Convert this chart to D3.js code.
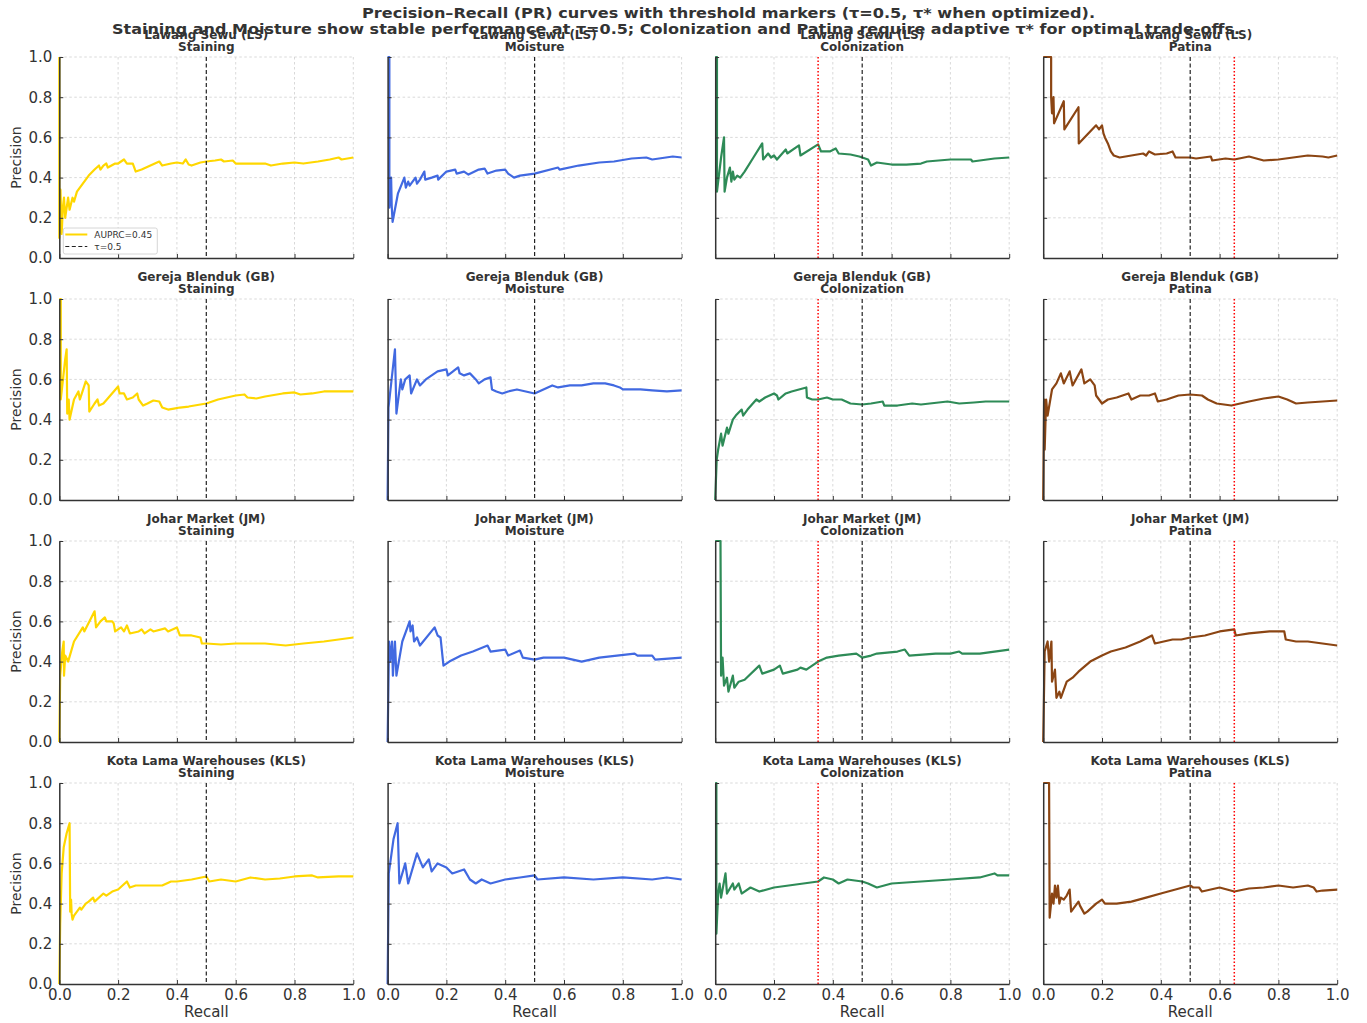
<!DOCTYPE html>
<html><head><meta charset="utf-8">
<script src="https://cdn.jsdelivr.net/npm/d3@7"></script>
<style>body{margin:0;background:#fff;} svg{display:block;font-family:"DejaVu Sans",sans-serif;}</style>
</head><body><svg id="chart" width="1367" height="1023"></svg>
<script>
const titleLines = ["Precision–Recall (PR) curves with threshold markers (τ=0.5, τ* when optimized).",
  "Staining and Moisture show stable performance at τ=0.5; Colonization and Patina require adaptive τ* for optimal trade-offs."];
const sites = ["Lawang Sewu (LS)","Gereja Blenduk (GB)","Johar Market (JM)","Kota Lama Warehouses (KLS)"];
const defects = ["Staining","Moisture","Colonization","Patina"];
const defectColors = ["#FFD700","#4169E1","#2E8B57","#8B4513"];
const tauDefault = 0.5;
const tauStar = [null,null,0.35,0.65];
const tickValues = [0,0.2,0.4,0.6,0.8,1.0];
const legendLabels = ["AUPRC=0.45","τ=0.5"];

// [recall, precision]
const LS_Staining = [[0,1],[0,0.1],[0.004,0.34],[0.008,0.12],[0.012,0.25],[0.016,0.3],[0.02,0.2],[0.03,0.3],[0.035,0.24],[0.045,0.3],[0.05,0.28],[0.06,0.33],[0.08,0.37],[0.1,0.41],[0.12,0.44],[0.135,0.46],[0.14,0.44],[0.15,0.46],[0.16,0.47],[0.165,0.45],[0.19,0.47],[0.2,0.47],[0.22,0.49],[0.23,0.47],[0.25,0.47],[0.26,0.43],[0.28,0.44],[0.31,0.46],[0.34,0.48],[0.35,0.46],[0.38,0.47],[0.4,0.475],[0.42,0.47],[0.43,0.49],[0.44,0.465],[0.45,0.46],[0.48,0.475],[0.5,0.48],[0.53,0.485],[0.55,0.49],[0.56,0.48],[0.59,0.485],[0.6,0.47],[0.65,0.47],[0.7,0.47],[0.72,0.46],[0.76,0.47],[0.8,0.475],[0.83,0.47],[0.88,0.48],[0.92,0.49],[0.95,0.5],[0.96,0.49],[1.0,0.5]];
const LS_Moisture = [[0,1],[0.006,1],[0.006,0.25],[0.012,0.4],[0.014,0.26],[0.017,0.18],[0.035,0.32],[0.057,0.4],[0.062,0.35],[0.07,0.38],[0.075,0.36],[0.095,0.4],[0.1,0.37],[0.11,0.39],[0.125,0.43],[0.128,0.39],[0.15,0.4],[0.17,0.41],[0.172,0.39],[0.2,0.43],[0.23,0.44],[0.235,0.42],[0.26,0.43],[0.275,0.415],[0.31,0.44],[0.33,0.445],[0.34,0.42],[0.37,0.435],[0.4,0.44],[0.41,0.42],[0.43,0.4],[0.45,0.41],[0.5,0.42],[0.58,0.45],[0.585,0.44],[0.65,0.46],[0.72,0.475],[0.77,0.48],[0.83,0.495],[0.88,0.5],[0.9,0.49],[0.97,0.505],[1.0,0.5]];
const LS_Colonization = [[0,1],[0.006,1],[0.006,0.33],[0.02,0.5],[0.03,0.6],[0.032,0.33],[0.04,0.4],[0.05,0.45],[0.055,0.38],[0.06,0.43],[0.065,0.39],[0.075,0.41],[0.085,0.4],[0.1,0.43],[0.13,0.5],[0.16,0.57],[0.163,0.49],[0.18,0.52],[0.19,0.5],[0.2,0.51],[0.21,0.49],[0.24,0.54],[0.245,0.52],[0.285,0.56],[0.29,0.51],[0.35,0.565],[0.36,0.53],[0.39,0.53],[0.41,0.545],[0.42,0.52],[0.46,0.515],[0.49,0.505],[0.52,0.49],[0.53,0.46],[0.55,0.475],[0.6,0.465],[0.65,0.465],[0.7,0.47],[0.72,0.48],[0.8,0.49],[0.87,0.49],[0.875,0.48],[0.95,0.495],[1.0,0.5]];
const LS_Patina = [[0,1],[0.027,1],[0.027,0.8],[0.03,0.72],[0.035,0.8],[0.037,0.67],[0.07,0.78],[0.072,0.64],[0.12,0.75],[0.121,0.57],[0.18,0.66],[0.19,0.64],[0.2,0.66],[0.205,0.62],[0.21,0.6],[0.22,0.57],[0.23,0.53],[0.24,0.51],[0.26,0.5],[0.3,0.51],[0.34,0.52],[0.35,0.51],[0.36,0.53],[0.38,0.515],[0.42,0.52],[0.44,0.53],[0.45,0.5],[0.5,0.5],[0.52,0.495],[0.57,0.505],[0.575,0.485],[0.62,0.495],[0.65,0.49],[0.7,0.505],[0.75,0.485],[0.8,0.49],[0.9,0.51],[0.95,0.505],[0.97,0.5],[1.0,0.51]];

const GB_Staining = [[0,1],[0.005,1],[0.005,0.5],[0.02,0.7],[0.025,0.75],[0.027,0.43],[0.032,0.5],[0.035,0.4],[0.05,0.5],[0.065,0.54],[0.07,0.5],[0.09,0.59],[0.1,0.57],[0.102,0.44],[0.12,0.48],[0.13,0.5],[0.135,0.47],[0.15,0.48],[0.2,0.565],[0.205,0.53],[0.22,0.53],[0.23,0.5],[0.25,0.51],[0.265,0.53],[0.27,0.5],[0.285,0.47],[0.3,0.48],[0.32,0.495],[0.34,0.49],[0.35,0.46],[0.37,0.45],[0.39,0.455],[0.41,0.46],[0.44,0.465],[0.46,0.47],[0.5,0.48],[0.54,0.5],[0.57,0.51],[0.6,0.52],[0.63,0.525],[0.64,0.51],[0.67,0.505],[0.7,0.515],[0.76,0.53],[0.8,0.535],[0.82,0.525],[0.86,0.53],[0.9,0.54],[0.95,0.54],[1.0,0.54]];
const GB_Moisture = [[0,0],[0.003,0.46],[0.025,0.75],[0.03,0.43],[0.045,0.6],[0.05,0.55],[0.06,0.6],[0.075,0.62],[0.08,0.53],[0.1,0.6],[0.11,0.57],[0.13,0.6],[0.15,0.62],[0.17,0.64],[0.2,0.65],[0.205,0.62],[0.24,0.66],[0.245,0.63],[0.26,0.62],[0.28,0.63],[0.3,0.6],[0.31,0.58],[0.33,0.6],[0.35,0.61],[0.355,0.55],[0.37,0.54],[0.39,0.53],[0.41,0.54],[0.44,0.55],[0.47,0.54],[0.5,0.53],[0.53,0.55],[0.56,0.57],[0.58,0.56],[0.62,0.57],[0.66,0.57],[0.7,0.58],[0.74,0.58],[0.77,0.57],[0.79,0.56],[0.8,0.55],[0.86,0.55],[0.9,0.545],[0.95,0.54],[1.0,0.545]];
const GB_Colonization = [[0,0],[0.005,0.2],[0.01,0.25],[0.02,0.33],[0.025,0.27],[0.03,0.3],[0.04,0.36],[0.045,0.33],[0.06,0.4],[0.07,0.42],[0.09,0.45],[0.095,0.42],[0.11,0.45],[0.14,0.5],[0.15,0.49],[0.17,0.51],[0.2,0.53],[0.21,0.52],[0.215,0.5],[0.24,0.53],[0.26,0.54],[0.31,0.56],[0.312,0.51],[0.33,0.5],[0.35,0.5],[0.38,0.51],[0.4,0.5],[0.43,0.5],[0.46,0.48],[0.5,0.475],[0.53,0.48],[0.57,0.49],[0.575,0.47],[0.62,0.47],[0.67,0.48],[0.7,0.475],[0.79,0.49],[0.83,0.48],[0.88,0.485],[0.92,0.49],[1.0,0.49]];
const GB_Patina = [[0,0],[0.003,0.5],[0.005,0.25],[0.01,0.5],[0.015,0.42],[0.03,0.55],[0.045,0.58],[0.06,0.63],[0.07,0.58],[0.09,0.64],[0.1,0.57],[0.13,0.65],[0.14,0.58],[0.16,0.6],[0.175,0.57],[0.18,0.52],[0.2,0.48],[0.22,0.5],[0.25,0.51],[0.29,0.53],[0.3,0.5],[0.33,0.52],[0.36,0.52],[0.38,0.53],[0.39,0.49],[0.42,0.5],[0.46,0.52],[0.5,0.525],[0.54,0.52],[0.56,0.5],[0.59,0.48],[0.64,0.47],[0.7,0.49],[0.75,0.505],[0.8,0.515],[0.83,0.5],[0.86,0.48],[0.9,0.485],[0.95,0.49],[1.0,0.495]];

const JM_Staining = [[0,0],[0.003,0.33],[0.01,0.45],[0.015,0.5],[0.016,0.33],[0.02,0.43],[0.03,0.4],[0.05,0.5],[0.08,0.57],[0.085,0.55],[0.12,0.65],[0.125,0.57],[0.14,0.6],[0.155,0.62],[0.16,0.6],[0.18,0.6],[0.185,0.59],[0.19,0.55],[0.21,0.57],[0.22,0.55],[0.23,0.58],[0.24,0.54],[0.27,0.55],[0.28,0.56],[0.29,0.54],[0.31,0.56],[0.32,0.55],[0.36,0.565],[0.37,0.55],[0.4,0.57],[0.41,0.53],[0.45,0.53],[0.48,0.52],[0.485,0.49],[0.5,0.49],[0.55,0.485],[0.6,0.49],[0.7,0.49],[0.77,0.48],[0.83,0.49],[0.9,0.5],[0.95,0.51],[1.0,0.52]];
const JM_Moisture = [[0,0],[0.005,0.5],[0.008,0.4],[0.015,0.5],[0.018,0.33],[0.025,0.5],[0.03,0.33],[0.05,0.5],[0.07,0.58],[0.075,0.6],[0.078,0.55],[0.085,0.58],[0.09,0.5],[0.1,0.52],[0.11,0.48],[0.16,0.57],[0.17,0.53],[0.18,0.52],[0.185,0.45],[0.19,0.38],[0.21,0.4],[0.25,0.43],[0.29,0.45],[0.34,0.48],[0.35,0.45],[0.4,0.46],[0.41,0.43],[0.45,0.455],[0.46,0.42],[0.5,0.41],[0.53,0.42],[0.6,0.42],[0.63,0.41],[0.66,0.4],[0.72,0.42],[0.84,0.44],[0.85,0.43],[0.9,0.43],[0.91,0.41],[1.0,0.42]];
const JM_Colonization = [[0,1],[0.018,1],[0.02,0.33],[0.025,0.42],[0.03,0.28],[0.04,0.32],[0.045,0.25],[0.06,0.33],[0.065,0.27],[0.08,0.3],[0.1,0.31],[0.15,0.38],[0.16,0.34],[0.2,0.36],[0.22,0.38],[0.23,0.34],[0.28,0.36],[0.29,0.37],[0.31,0.36],[0.35,0.4],[0.38,0.42],[0.42,0.43],[0.48,0.44],[0.5,0.42],[0.53,0.43],[0.55,0.44],[0.62,0.45],[0.645,0.46],[0.66,0.43],[0.75,0.44],[0.8,0.44],[0.83,0.45],[0.84,0.44],[0.9,0.44],[0.95,0.45],[1.0,0.46]];
const JM_Patina = [[0,0],[0.005,0.45],[0.015,0.5],[0.02,0.4],[0.028,0.5],[0.03,0.3],[0.04,0.36],[0.045,0.22],[0.055,0.25],[0.06,0.22],[0.08,0.3],[0.1,0.32],[0.12,0.35],[0.16,0.4],[0.2,0.43],[0.23,0.45],[0.28,0.47],[0.33,0.5],[0.37,0.53],[0.38,0.49],[0.41,0.5],[0.44,0.51],[0.47,0.51],[0.5,0.52],[0.55,0.53],[0.6,0.55],[0.65,0.56],[0.655,0.53],[0.7,0.54],[0.77,0.55],[0.82,0.55],[0.825,0.51],[0.86,0.5],[0.9,0.5],[0.95,0.49],[1.0,0.48]];

const KLS_Staining = [[0,0],[0.003,0.3],[0.008,0.55],[0.015,0.68],[0.025,0.75],[0.035,0.8],[0.037,0.36],[0.04,0.42],[0.042,0.35],[0.045,0.32],[0.05,0.34],[0.06,0.36],[0.07,0.38],[0.075,0.37],[0.09,0.4],[0.1,0.41],[0.115,0.43],[0.12,0.41],[0.15,0.45],[0.16,0.44],[0.18,0.46],[0.2,0.47],[0.23,0.51],[0.24,0.48],[0.26,0.49],[0.3,0.49],[0.35,0.49],[0.38,0.51],[0.4,0.51],[0.45,0.52],[0.5,0.535],[0.51,0.51],[0.55,0.52],[0.6,0.51],[0.65,0.53],[0.7,0.52],[0.75,0.525],[0.8,0.535],[0.86,0.54],[0.88,0.53],[0.95,0.535],[1.0,0.535]];
const KLS_Moisture = [[0,0],[0.004,0.55],[0.02,0.72],[0.034,0.8],[0.04,0.5],[0.06,0.6],[0.07,0.5],[0.09,0.6],[0.1,0.65],[0.12,0.58],[0.14,0.62],[0.15,0.56],[0.17,0.6],[0.2,0.58],[0.22,0.55],[0.26,0.57],[0.28,0.52],[0.3,0.5],[0.32,0.52],[0.35,0.5],[0.4,0.52],[0.45,0.53],[0.5,0.54],[0.51,0.52],[0.6,0.53],[0.7,0.52],[0.8,0.53],[0.9,0.52],[0.95,0.53],[1.0,0.52]];
const KLS_Colonization = [[0,1],[0.004,1],[0.004,0.25],[0.01,0.45],[0.015,0.5],[0.02,0.43],[0.035,0.55],[0.04,0.45],[0.06,0.5],[0.065,0.47],[0.08,0.5],[0.09,0.45],[0.12,0.48],[0.15,0.46],[0.2,0.48],[0.25,0.49],[0.3,0.5],[0.35,0.51],[0.37,0.53],[0.4,0.52],[0.42,0.5],[0.45,0.52],[0.5,0.51],[0.52,0.5],[0.55,0.48],[0.6,0.5],[0.7,0.51],[0.8,0.52],[0.9,0.53],[0.95,0.55],[0.96,0.54],[1.0,0.54]];
const KLS_Patina = [[0,1],[0.02,1],[0.022,0.33],[0.03,0.45],[0.035,0.4],[0.04,0.49],[0.045,0.43],[0.05,0.49],[0.055,0.4],[0.06,0.43],[0.07,0.42],[0.08,0.44],[0.09,0.47],[0.095,0.36],[0.1,0.37],[0.12,0.41],[0.125,0.39],[0.14,0.35],[0.15,0.36],[0.18,0.4],[0.2,0.42],[0.21,0.4],[0.25,0.4],[0.3,0.41],[0.35,0.43],[0.4,0.45],[0.45,0.47],[0.5,0.49],[0.51,0.48],[0.53,0.48],[0.54,0.46],[0.6,0.48],[0.65,0.46],[0.7,0.475],[0.75,0.48],[0.8,0.49],[0.85,0.48],[0.9,0.49],[0.92,0.48],[0.93,0.46],[0.95,0.465],[1.0,0.47]];

const curves = [
  [LS_Staining, LS_Moisture, LS_Colonization, LS_Patina],
  [GB_Staining, GB_Moisture, GB_Colonization, GB_Patina],
  [JM_Staining, JM_Moisture, JM_Colonization, JM_Patina],
  [KLS_Staining, KLS_Moisture, KLS_Colonization, KLS_Patina]
];

const svg = d3.select("#chart");
const W = 294, H = 201;
const colX = [59.3, 387.6, 715.2, 1043.2];
const rowY = [57, 299, 541, 783];
const ink = "#333";

sites.forEach((site, r) => {
  defects.forEach((def, c) => {
    const g = svg.append("g").attr("transform", `translate(${colX[c]},${rowY[r]})`);
    const x = d3.scaleLinear().domain([0, 1]).range([0, W]);
    const y = d3.scaleLinear().domain([0, 1]).range([H, 0]);

    // grid
    g.append("g").selectAll("line").data(tickValues.slice(1)).join("line")
      .attr("x1", d => x(d)).attr("x2", d => x(d)).attr("y1", 0).attr("y2", H)
      .attr("stroke", "#cfcfcf").attr("stroke-width", 0.8).attr("stroke-dasharray", "2.5,2.5");
    g.append("g").selectAll("line").data(tickValues.slice(1)).join("line")
      .attr("y1", d => y(d)).attr("y2", d => y(d)).attr("x1", 0).attr("x2", W)
      .attr("stroke", "#cfcfcf").attr("stroke-width", 0.8).attr("stroke-dasharray", "2.5,2.5");

    // curve
    g.append("path").datum(curves[r][c])
      .attr("d", d3.line().x(d => x(d[0])).y(d => y(d[1])))
      .attr("fill", "none").attr("stroke", defectColors[c]).attr("stroke-width", 2.2)
      .attr("stroke-linejoin", "round");

    // threshold lines
    g.append("line").attr("x1", x(tauDefault)).attr("x2", x(tauDefault)).attr("y1", 0).attr("y2", H)
      .attr("stroke", "#222").attr("stroke-width", 1.2).attr("stroke-dasharray", "4,2.5");
    if (tauStar[c] !== null) {
      g.append("line").attr("x1", x(tauStar[c])).attr("x2", x(tauStar[c])).attr("y1", 0).attr("y2", H)
        .attr("stroke", "red").attr("stroke-width", 1.5).attr("stroke-dasharray", "1.5,2");
    }

    // axes
    const xAxis = d3.axisBottom(x).tickValues(tickValues).tickSizeInner(-4).tickSizeOuter(0).tickPadding(5)
      .tickFormat(r === 3 ? d3.format(".1f") : () => "");
    const yAxis = d3.axisLeft(y).tickValues(tickValues).tickSizeInner(-4).tickSizeOuter(0).tickPadding(7)
      .tickFormat(c === 0 ? d3.format(".1f") : () => "");
    const gx = g.append("g").attr("transform", `translate(0,${H})`).call(xAxis);
    const gy = g.append("g").call(yAxis);
    [gx, gy].forEach(a => {
      a.select(".domain").attr("stroke", ink).attr("stroke-width", 1.5);
      a.selectAll(".tick line").attr("stroke", ink).attr("stroke-width", 1);
      a.selectAll(".tick text").attr("fill", ink).attr("font-size", 15).attr("font-family", "DejaVu Sans");
    });

    // titles
    g.append("text").attr("x", W / 2).attr("y", -18).attr("text-anchor", "middle")
      .attr("font-size", 12).attr("font-weight", "bold").attr("fill", ink).text(site);
    g.append("text").attr("x", W / 2).attr("y", -6).attr("text-anchor", "middle")
      .attr("font-size", 12).attr("font-weight", "bold").attr("fill", ink).text(def);

    if (c === 0) {
      g.append("text").attr("transform", `translate(${21 - colX[0]},${H / 2}) rotate(-90)`)
        .attr("text-anchor", "middle").attr("font-size", 14).attr("fill", ink).text("Precision");
    }
    if (r === 3) {
      g.append("text").attr("x", W / 2).attr("y", H + 33).attr("text-anchor", "middle")
        .attr("font-size", 15).attr("fill", ink).text("Recall");
    }

    // legend
    if (r === 0 && c === 0) {
      const lg = g.append("g").attr("transform", "translate(4,171)");
      lg.append("rect").attr("width", 94).attr("height", 26).attr("rx", 2)
        .attr("fill", "white").attr("fill-opacity", 0.85).attr("stroke", "#ccc").attr("stroke-width", 0.8);
      lg.append("line").attr("x1", 2).attr("x2", 24).attr("y1", 6.5).attr("y2", 6.5)
        .attr("stroke", defectColors[0]).attr("stroke-width", 2);
      lg.append("line").attr("x1", 2).attr("x2", 24).attr("y1", 18.5).attr("y2", 18.5)
        .attr("stroke", "#222").attr("stroke-width", 1.2).attr("stroke-dasharray", "4,2.5");
      lg.selectAll("text.lt").data(legendLabels).join("text").attr("class", "lt")
        .attr("x", 31).attr("y", (d, i) => 9.5 + i * 12).attr("font-size", 9).attr("fill", ink).text(d => d);
    }
  });
});

// main title
svg.append("text").attr("x", 362).attr("y", 18).attr("font-size", 14).attr("font-weight", "bold")
  .attr("fill", ink).attr("textLength", 733).attr("lengthAdjust", "spacingAndGlyphs").text(titleLines[0]);
svg.append("text").attr("x", 112).attr("y", 34).attr("font-size", 14).attr("font-weight", "bold")
  .attr("fill", ink).attr("textLength", 1128).attr("lengthAdjust", "spacingAndGlyphs").text(titleLines[1]);
</script></body></html>
